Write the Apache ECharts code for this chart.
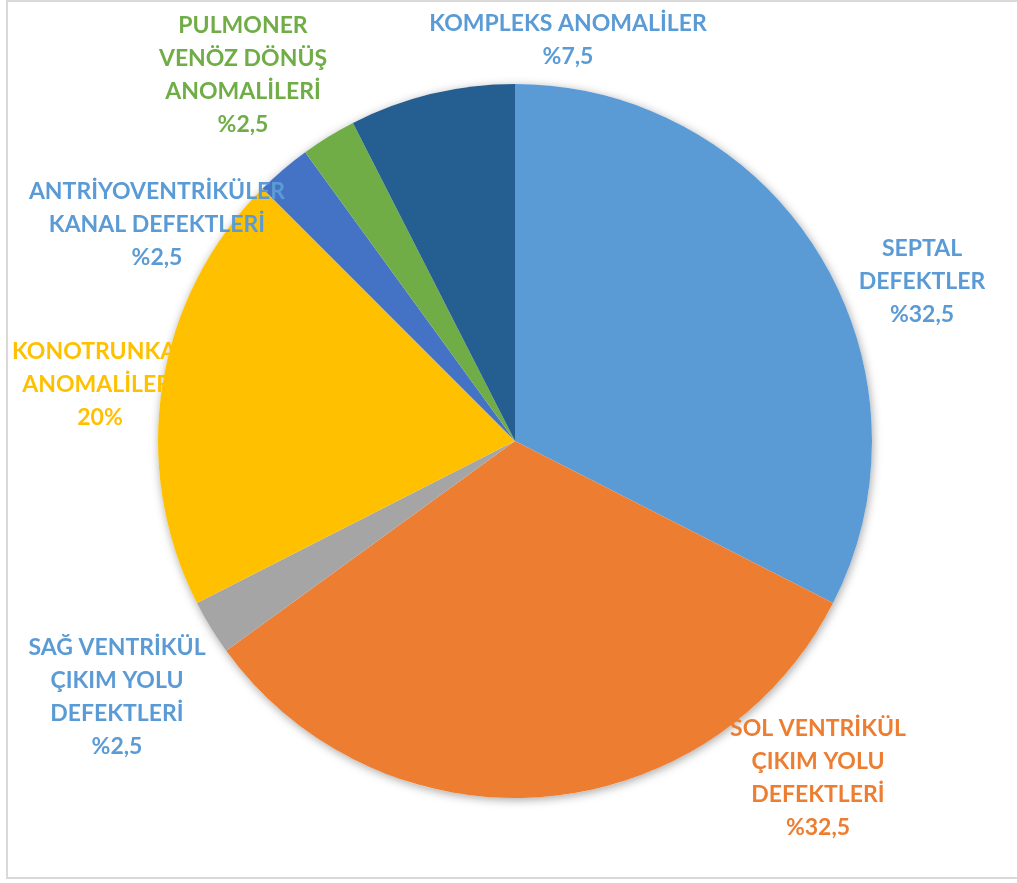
<!DOCTYPE html>
<html>
<head>
<meta charset="utf-8">
<script src="https://cdn.jsdelivr.net/npm/echarts@6/dist/echarts.min.js"></script>
<style>
html, body { margin: 0; padding: 0; background: #fff; }
#frame {
    position: absolute;
    left: 6px;
    top: 0;
    width: 1020px;
    height: 879px;
    border-left: 2px solid #d9d9d9;
    border-top: 2px solid #d9d9d9;
    border-bottom: 2px solid #d9d9d9;
    box-sizing: border-box;
}
#chart {
    position: absolute;
    left: 0;
    top: 0;
    width: 1017px;
    height: 883px;
}
</style>
</head>
<body>
<div id="frame"></div>
<div id="chart"></div>
<script>
// kategoriler (saat yönünde, tepeden başlayarak)
var categories = [
    'SEPTAL\nDEFEKTLER',
    'SOL VENTRİKÜL\nÇIKIM YOLU\nDEFEKTLERİ',
    'SAĞ VENTRİKÜL\nÇIKIM YOLU\nDEFEKTLERİ',
    'KONOTRUNKAL\nANOMALİLERİ',
    'ANTRİYOVENTRİKÜLER\nKANAL DEFEKTLERİ',
    'PULMONER\nVENÖZ DÖNÜŞ\nANOMALİLERİ',
    'KOMPLEKS ANOMALİLER'
];
var values = [32.5, 32.5, 2.5, 20, 2.5, 2.5, 7.5];
var percentLabels = ['%32,5', '%32,5', '%2,5', '20%', '%2,5', '%2,5', '%7,5'];

var sliceColors = ['#5b9bd5', '#ed7d31', '#a5a5a5', '#ffc000', '#4472c4', '#70ad47', '#255e91'];
var labelColors = ['#5b9bd5', '#ed7d31', '#5b9bd5', '#ffc000', '#5b9bd5', '#70ad47', '#5b9bd5'];
// etiket merkezleri (px)
var labelPos = [[922, 282], [818, 778], [117, 697], [100, 385], [157, 225], [243, 75], [568, 40]];

var chartDom = document.getElementById('chart');
var myChart = echarts.init(chartDom);

var data = categories.map(function (name, i) {
    return {
        name: name,
        value: values[i],
        itemStyle: { color: sliceColors[i] },
        label: { color: labelColors[i] }
    };
});

var option = {
    animation: false,
    series: [
        {
            // gölge için alt katman
            type: 'pie',
            silent: true,
            z: 1,
            center: [515, 441],
            radius: 357,
            label: { show: false },
            labelLine: { show: false },
            itemStyle: {
                color: '#ffffff',
                shadowBlur: 10,
                shadowColor: 'rgba(0,0,0,0.35)',
                shadowOffsetX: 1,
                shadowOffsetY: 2
            },
            data: [{ value: 1, name: '' }]
        },
        {
            type: 'pie',
            z: 2,
            center: [515, 441],
            radius: 357,
            startAngle: 90,
            clockwise: true,
            itemStyle: { borderWidth: 0 },
            emphasis: { disabled: true },
            label: {
                show: true,
                position: 'outside',
                fontFamily: 'Lato',
                fontWeight: 'bold',
                fontSize: 23,
                lineHeight: 33,
                align: 'center',
                overflow: 'none',
                width: 400,
                formatter: function (p) {
                    return p.name + '\n' + percentLabels[p.dataIndex];
                }
            },
            labelLine: { show: false },
            labelLayout: function (params) {
                var pos = labelPos[params.dataIndex];
                return {
                    x: pos[0],
                    y: pos[1],
                    align: 'center',
                    verticalAlign: 'middle'
                };
            },
            data: data
        }
    ]
};

myChart.setOption(option);
</script>
</body>
</html>
